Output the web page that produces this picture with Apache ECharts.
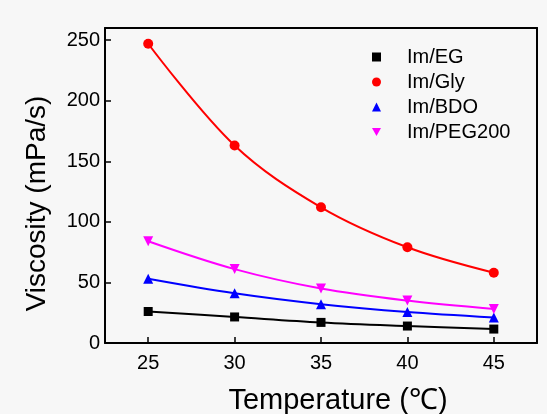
<!DOCTYPE html>
<html>
<head>
<meta charset="utf-8">
<script src="https://cdn.jsdelivr.net/npm/echarts@6/dist/echarts.min.js"></script>
<style>
  html, body { margin: 0; padding: 0; background: #f7f7f7; }
  #chart { width: 547px; height: 414px; }
</style>
</head>
<body>
<div id="chart"></div>
<script>
// Viscosity of the imidazole-based mixtures versus temperature
const temperatures = ['25', '30', '35', '40', '45'];
const imEG     = [26, 21.5, 17, 14, 11.5];
const imGly    = [247, 163, 112, 79, 58];
const imBDO    = [53, 41, 32, 25.5, 21];
const imPEG200 = [84, 61, 45, 35, 28];

const FONT = '"Liberation Sans", Arial, sans-serif';
const downTriangle = 'path://M0,0 L10,0 L5,9 Z';

function curve(name, data, color, symbol, size) {
  return {
    name: name,
    type: 'line',
    data: data,
    smooth: 0.35,
    symbol: symbol,
    symbolSize: size,
    showSymbol: true,
    lineStyle: { color: color, width: 2 },
    itemStyle: { color: color }
  };
}

// plain frame axes for the top and right edges of the plot box
function frameLine() {
  return { show: true, onZero: false, lineStyle: { color: '#000', width: 2 } };
}

const chart = echarts.init(document.getElementById('chart'), null, { renderer: 'canvas' });
chart.setOption({
  animation: false,
  backgroundColor: '#f7f7f7',
  textStyle: { fontFamily: FONT },
  grid: {
    left: 105, right: 10, top: 28, bottom: 71,
    containLabel: false,
    outerBoundsMode: 'none'
  },
  legend: {
    orient: 'vertical',
    left: 372,
    top: 47,
    padding: 0,
    itemWidth: 9,
    itemHeight: 9,
    itemGap: 5,
    textStyle: { fontFamily: FONT, fontSize: 20, color: '#000', padding: [0, 0, 0, 21], lineHeight: 20 },
    data: [
      { name: 'Im/EG', icon: 'rect', itemStyle: { color: '#000' } },
      { name: 'Im/Gly', icon: 'circle' },
      { name: 'Im/BDO', icon: 'triangle' },
      { name: 'Im/PEG200', icon: downTriangle }
    ]
  },
  xAxis: [{
    type: 'category',
    data: temperatures,
    boundaryGap: true,
    position: 'bottom',
    name: 'Temperature (\u2103)',
    nameLocation: 'middle',
    nameGap: 43,
    nameTextStyle: { fontFamily: FONT, fontSize: 29, color: '#000', padding: [0, 0, 0, 34] },
    axisLine: frameLine(),
    axisTick: { show: true, inside: true, alignWithLabel: true, length: 6, lineStyle: { color: '#000', width: 1.5 } },
    axisLabel: { fontFamily: FONT, fontSize: 20, color: '#000', margin: 10 },
    splitLine: { show: false }
  }, {
    type: 'category',
    data: temperatures,
    boundaryGap: true,
    position: 'top',
    axisLine: frameLine(),
    axisTick: { show: false },
    axisLabel: { show: false },
    splitLine: { show: false }
  }],
  yAxis: [{
    type: 'value',
    min: 0,
    max: 260,
    interval: 50,
    position: 'left',
    name: 'Viscosity (mPa/s)',
    nameLocation: 'middle',
    nameGap: 54,
    nameTextStyle: { fontFamily: FONT, fontSize: 28, color: '#000', padding: [0, 36, 0, 0] },
    axisLine: frameLine(),
    axisTick: { show: true, inside: true, length: 6, lineStyle: { color: '#000', width: 1.5 } },
    axisLabel: { fontFamily: FONT, fontSize: 20, color: '#000', margin: 5, showMaxLabel: false },
    splitLine: { show: false }
  }, {
    type: 'value',
    min: 0,
    max: 260,
    interval: 50,
    position: 'right',
    axisLine: frameLine(),
    axisTick: { show: false },
    axisLabel: { show: false },
    splitLine: { show: false }
  }],
  series: [
    curve('Im/EG', imEG, '#000000', 'rect', 9),
    curve('Im/Gly', imGly, '#ff0000', 'circle', 10),
    curve('Im/BDO', imBDO, '#0000ff', 'triangle', 10),
    curve('Im/PEG200', imPEG200, '#ff00ff', downTriangle, 10)
  ]
});
</script>
</body>
</html>
